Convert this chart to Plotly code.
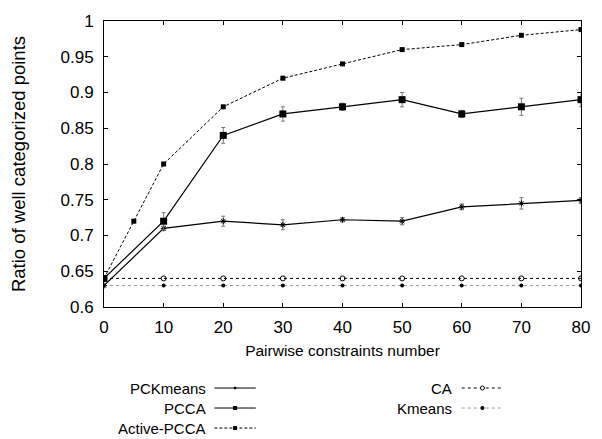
import plotly.graph_objects as go

# ---- data ----
x_main = [0, 10, 20, 30, 40, 50, 60, 70, 80]
x_active = [0, 5, 10, 20, 30, 40, 50, 60, 70, 80]

pckmeans = [0.63, 0.71, 0.72, 0.715, 0.722, 0.72, 0.74, 0.745, 0.749]
pckmeans_err = [0.0, 0.003, 0.007, 0.007, 0.003, 0.005, 0.004, 0.008, 0.004]

pcca = [0.64, 0.72, 0.84, 0.87, 0.88, 0.89, 0.87, 0.88, 0.89]
pcca_err = [0.0, 0.012, 0.011, 0.01, 0.005, 0.01, 0.005, 0.012, 0.01]

active_pcca = [0.64, 0.72, 0.80, 0.88, 0.92, 0.94, 0.96, 0.967, 0.98, 0.988]

ca = [0.64] * 9
kmeans = [0.63] * 9

x_ticks = [0, 10, 20, 30, 40, 50, 60, 70, 80]
y_ticks = [0.6, 0.65, 0.7, 0.75, 0.8, 0.85, 0.9, 0.95, 1.0]
y_ticktext = ["0.6", "0.65", "0.7", "0.75", "0.8", "0.85", "0.9", "0.95", "1"]

legend_left = ["PCKmeans", "PCCA", "Active-PCCA"]
legend_right = ["CA", "Kmeans"]

FONT = "Liberation Sans, Arial, sans-serif"

fig = go.Figure()

fig.add_trace(go.Scatter(
    x=x_main, y=kmeans, mode="lines+markers",
    line=dict(color="#999999", width=1, dash="dot"),
    marker=dict(symbol="circle", size=4, color="black"),
))
fig.add_trace(go.Scatter(
    x=x_main, y=ca, mode="lines+markers",
    line=dict(color="black", width=1, dash="dot"),
    marker=dict(symbol="circle-open", size=5, color="black", line=dict(width=1)),
))
fig.add_trace(go.Scatter(
    x=x_main, y=pckmeans, mode="lines+markers",
    line=dict(color="black", width=1.2),
    marker=dict(symbol="asterisk-open", size=5, color="black", line=dict(width=1, color="black")),
    error_y=dict(type="data", array=pckmeans_err, color="#777777", thickness=1, width=2),
))
fig.add_trace(go.Scatter(
    x=x_main, y=pcca, mode="lines+markers",
    line=dict(color="black", width=1.2),
    marker=dict(symbol="square", size=7, color="black"),
    error_y=dict(type="data", array=pcca_err, color="#777777", thickness=1, width=2),
))
fig.add_trace(go.Scatter(
    x=x_active, y=active_pcca, mode="lines+markers",
    line=dict(color="black", width=1, dash="3px,2px"),
    marker=dict(symbol="square", size=5, color="black"),
))

# ---- manual gnuplot-style legend ----
W, H = 484.0, 293.0
L, B = 104.0, 307.0

def px(x):
    return (x - L) / W

def py(y):
    return (B - y) / H

rows_y = [390, 410.5, 431]
left_styles = [
    dict(dash="solid", mk="star"),
    dict(dash="solid", mk="sq"),
    dict(dash="3px,2px", mk="sq"),
]
right_styles = [
    dict(dash="dot", mk="ocircle", color="black"),
    dict(dash="dot", mk="circle", color="#999999"),
]

shapes = []
annotations = []

def add_entry(label, text_right, line_l, line_r, yrow, dash, mk, color="black"):
    annotations.append(dict(
        x=px(text_right), y=py(yrow), xref="paper", yref="paper",
        text=label, showarrow=False, xanchor="right", yanchor="middle",
        xshift=3,
        font=dict(family=FONT, size=15, color="black"),
    ))
    shapes.append(dict(
        type="line", xref="paper", yref="paper",
        x0=px(line_l), x1=px(line_r), y0=py(yrow), y1=py(yrow),
        line=dict(color=color, width=1, dash=dash),
    ))
    cx = px((line_l + line_r) / 2)
    cy = py(yrow)
    if mk == "sq":
        shapes.append(dict(type="rect", xref="paper", yref="paper",
                           xsizemode="pixel", ysizemode="pixel", xanchor=cx, yanchor=cy,
                           x0=-2, x1=2, y0=-2, y1=2,
                           fillcolor="black", line=dict(width=0)))
    elif mk == "star":
        shapes.append(dict(type="rect", xref="paper", yref="paper",
                           xsizemode="pixel", ysizemode="pixel", xanchor=cx, yanchor=cy,
                           x0=-1.2, x1=1.2, y0=-1.2, y1=1.2,
                           fillcolor="black", line=dict(width=0)))
    elif mk == "ocircle":
        shapes.append(dict(type="circle", xref="paper", yref="paper",
                           xsizemode="pixel", ysizemode="pixel", xanchor=cx, yanchor=cy,
                           x0=-2, x1=2, y0=-2, y1=2,
                           fillcolor="white", line=dict(width=1, color="black")))
    elif mk == "circle":
        shapes.append(dict(type="circle", xref="paper", yref="paper",
                           xsizemode="pixel", ysizemode="pixel", xanchor=cx, yanchor=cy,
                           x0=-2, x1=2, y0=-2, y1=2,
                           fillcolor="black", line=dict(width=0)))

for lbl, st, yr in zip(legend_left, left_styles, rows_y):
    add_entry(lbl, 206, 216, 258, yr, st["dash"], st["mk"])
for lbl, st, yr in zip(legend_right, right_styles, rows_y):
    add_entry(lbl, 456, 467, 509, yr, st["dash"], st["mk"], st["color"])

fig.update_layout(
    width=602, height=439,
    margin=dict(l=104, r=14, t=14, b=132),
    paper_bgcolor="white", plot_bgcolor="white",
    showlegend=False,
    font=dict(family=FONT, size=16, color="black"),
    shapes=shapes,
    annotations=annotations,
    xaxis=dict(
        range=[0, 80], tickvals=x_ticks, ticks="inside", ticklen=4,
        tickcolor="black", showline=True, linecolor="black", linewidth=1,
        mirror="allticks", showgrid=False, zeroline=False,
        tickfont=dict(family=FONT, size=17),
        ticklabelstandoff=5,
        title=dict(text="Pairwise constraints number", standoff=8,
                   font=dict(family=FONT, size=15.5)),
    ),
    yaxis=dict(
        range=[0.6, 1.0], tickvals=y_ticks, ticktext=y_ticktext,
        ticks="inside", ticklen=4, tickcolor="black",
        showline=True, linecolor="black", linewidth=1,
        mirror="allticks", showgrid=False, zeroline=False,
        tickfont=dict(family=FONT, size=17),
        ticklabelstandoff=6,
        title=dict(text="Ratio of well categorized points", standoff=30,
                   font=dict(family=FONT, size=18.5)),
    ),
)

fig.write_html("out.html")
